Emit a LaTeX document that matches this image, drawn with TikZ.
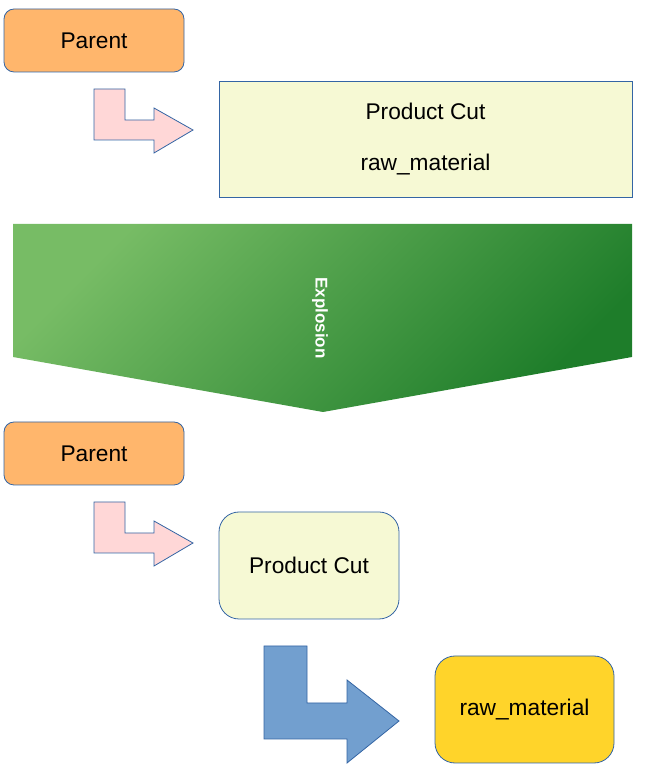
\documentclass[tikz,border=0pt]{standalone}
\usepackage{fontspec}
\setmainfont{Liberation Sans}
\definecolor{parentfill}{HTML}{FFB66C}
\definecolor{cutfill}{HTML}{F6F9D4}
\definecolor{rawfill}{HTML}{FFD42A}
\definecolor{pinkfill}{HTML}{FFD7D7}
\definecolor{bluefill}{HTML}{729FCF}
\definecolor{edgeblue}{HTML}{3465A4}
\definecolor{greenlight}{HTML}{77BC65}
\definecolor{greendark}{HTML}{1E7D2A}
\begin{document}
\begin{tikzpicture}[x=1pt,y=1pt,
    every node/.style={font=\fontsize{22.7pt}{27pt}\selectfont},
    box/.style={draw=edgeblue, line width=0.8pt, inner sep=0pt},
    parentbox/.style={box, fill=parentfill, rounded corners=10pt, minimum width=180pt, minimum height=63pt},
    bentarrow/.style={draw=edgeblue, line width=0.8pt}]
   \useasboundingbox (0,0) rectangle (662,782);

   % before the explosion
   \node[parentbox] (parentA) at (94,741.5) {Parent};
   \draw[bentarrow, fill=pinkfill] (94,693) -- (125,693) -- (125,662) -- (154,662) -- (154,674)
        -- (193,652) -- (154,629) -- (154,642) -- (94,642) -- cycle;
   \node[box, fill=cutfill, minimum width=413pt, minimum height=116pt, align=center]
        (cutA) at (425.5,643) {Product Cut\\[24pt]raw\_material};

   % explosion
   \shade[top color=greenlight, bottom color=greendark, shading angle=45]
        (13,558) -- (632,558) -- (632,425) -- (323,370) -- (13,425) -- cycle;
   \node[rotate=-90, white, font=\fontsize{17pt}{20pt}\selectfont\bfseries] (explosion) at (320,464) {Explosion};

   % after the explosion
   \node[parentbox] (parentB) at (94,328.5) {Parent};
   \draw[bentarrow, fill=pinkfill] (94,280) -- (125,280) -- (125,249) -- (154,249) -- (154,261)
        -- (193,239) -- (154,216) -- (154,229) -- (94,229) -- cycle;
   \node[box, fill=cutfill, rounded corners=20pt, minimum width=180pt, minimum height=107pt]
        (cutB) at (309,216.5) {Product Cut};
   \draw[bentarrow, fill=bluefill] (264,136) -- (307,136) -- (307,79) -- (347,79) -- (347,102)
        -- (399,61) -- (347,19) -- (347,43) -- (264,43) -- cycle;
   \node[box, fill=rawfill, rounded corners=20pt, minimum width=179pt, minimum height=107pt]
        (raw) at (524.5,72.5) {raw\_material};
\end{tikzpicture}
\end{document}
